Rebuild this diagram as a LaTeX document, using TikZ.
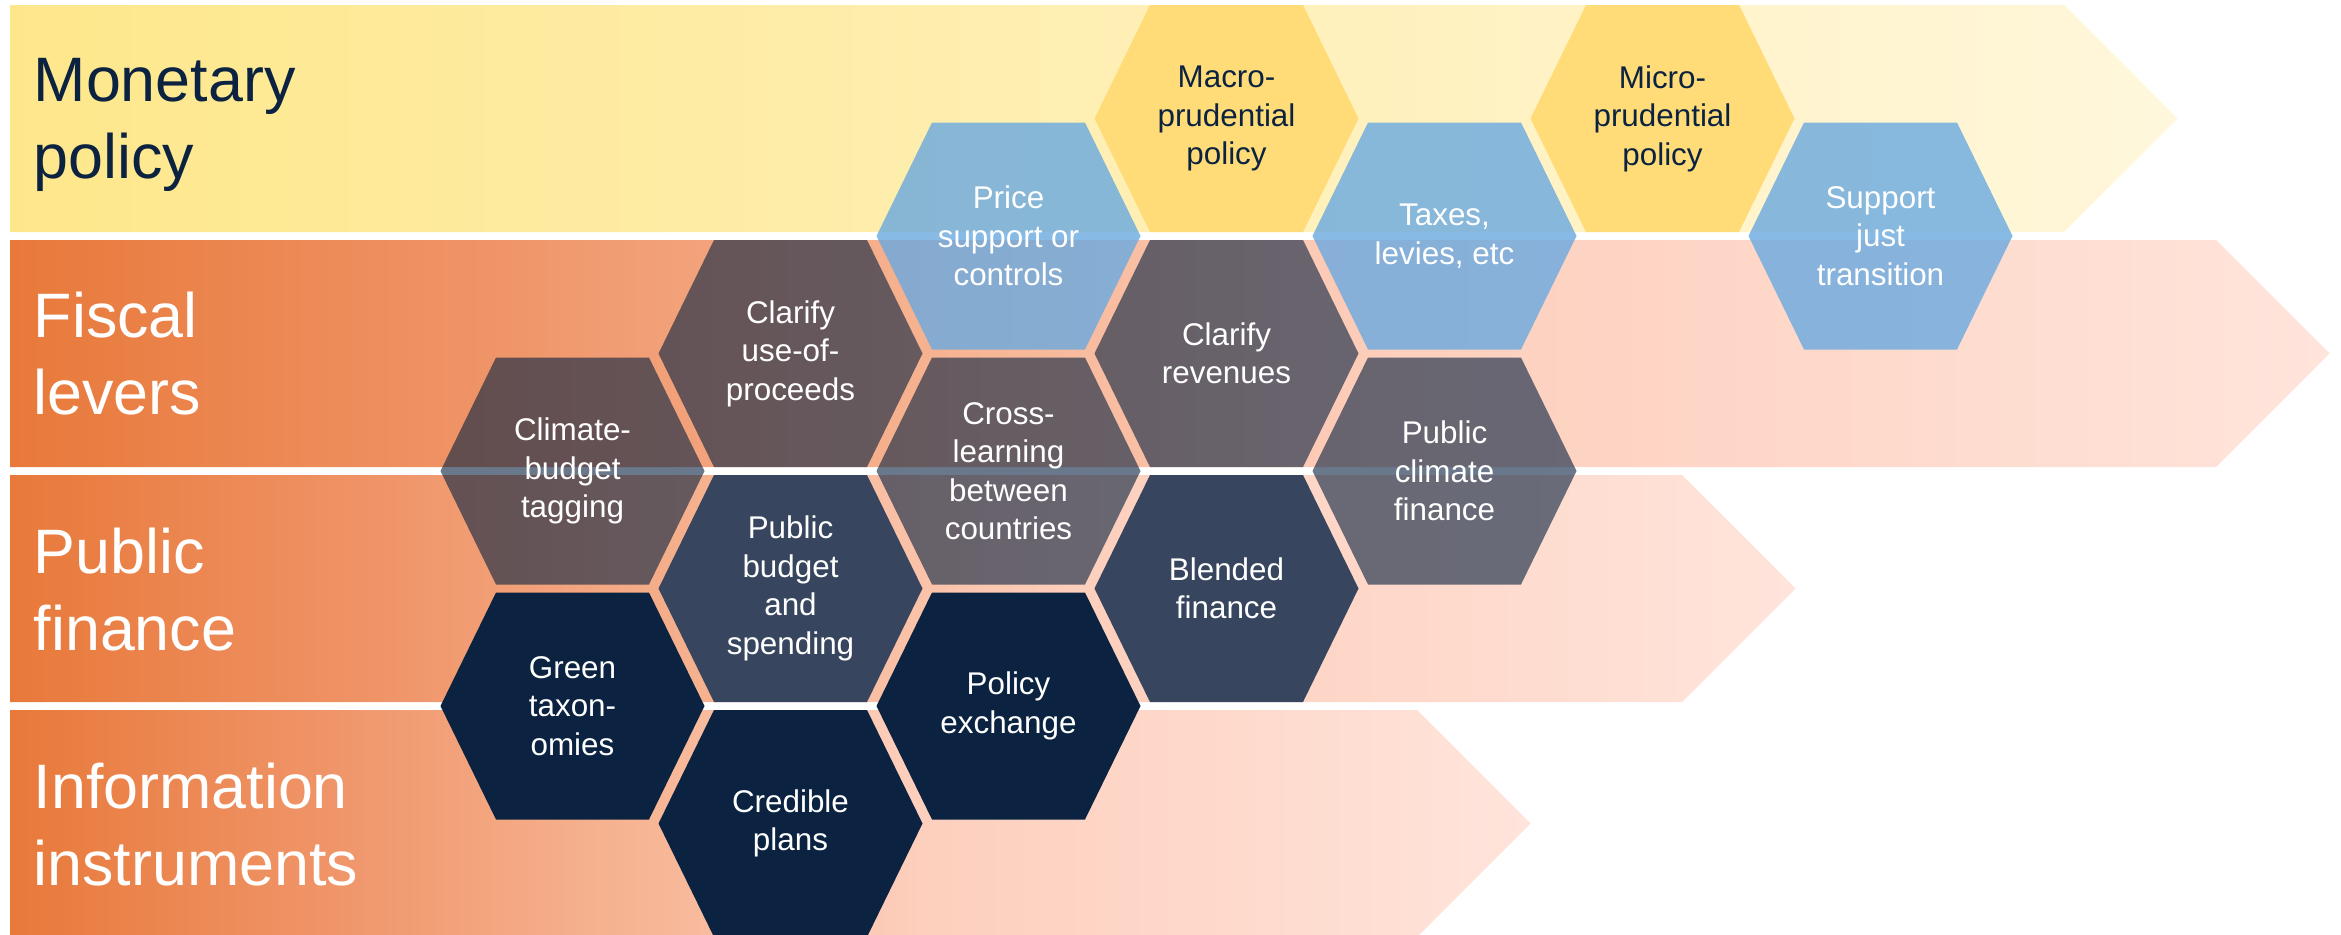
\documentclass[tikz,border=0pt]{standalone}
\usepackage{fontspec}
\setmainfont{Liberation Sans}
\usetikzlibrary{calc}
\definecolor{navy}{HTML}{0B2341}
\definecolor{slatefill}{HTML}{37465E}
\definecolor{goldfill}{HTML}{FFDC78}
\definecolor{skyfill}{HTML}{6AA9E0}
\definecolor{monA}{HTML}{FEE78B}
\definecolor{monB}{HTML}{FFF7DC}
\definecolor{orA}{HTML}{E8793A}
\definecolor{orB}{HTML}{F0966B}
\definecolor{orC}{HTML}{F6B391}
\definecolor{orD}{HTML}{FDCFBD}
\definecolor{orE}{HTML}{FFE4DB}
\pgfdeclarehorizontalshading{orangeband}{100bp}{color(0bp)=(orA); color(25bp)=(orA); color(36bp)=(orB); color(45bp)=(orC); color(55bp)=(orD); color(75bp)=(orE); color(100bp)=(orE)}

\begin{document}
\begin{tikzpicture}[x=0.1mm, y=-0.1mm,
 bandlabel/.style={anchor=west, align=left, inner sep=0pt, text=white,
 font=\fontsize{17.87}{21.9}\selectfont},
 hexlabel/.style={align=center, inner sep=0pt,
 font=\fontsize{8.93}{10.95}\selectfont},
 gold/.style={fill=goldfill},
 sky/.style={fill=skyfill, fill opacity=0.8},
 haze/.style={fill=navy, fill opacity=0.61},
 slate/.style={fill=slatefill},
 ink/.style={fill=navy}]
 \useasboundingbox (0,0) rectangle (2341,934);
 \shade[left color=monA, right color=monB]
 (10,5) -- (2064,5) -- (2177.5,118.5) -- (2064,232) -- (10,232) -- cycle;
 \foreach \t/\e in {240/2216, 475/1682, 710/1417} {
 \shade[shading=orangeband]
 (10,\t) -- (\e,\t) -- ({\e+113.5},{\t+113.5}) -- (\e,{\t+227}) -- (10,{\t+227}) -- cycle;
 }
 \node[bandlabel, text=navy] (monetary) at (33,125) {Monetary\\policy};
 \node[bandlabel] (fiscal) at (33,354) {Fiscal\\levers};
 \node[bandlabel] (public) at (33,590) {Public\\finance};
 \node[bandlabel] (info) at (33,825) {Information\\instruments};
 \foreach \c/\r/\kind/\ink/\txt [count=\i] in {
 0/3/haze/white/{Climate-\\budget\\tagging},
 0/5/ink/white/{Green\\taxon-\\omies},
 1/2/haze/white/{Clarify\\use-of-\\proceeds},
 1/4/slate/white/{Public\\budget\\and\\spending},
 1/6/ink/white/{Credible\\plans},
 2/1/sky/white/{Price\\support or\\controls},
 2/3/haze/white/{Cross-\\learning\\between\\countries},
 2/5/ink/white/{Policy\\exchange},
 3/0/gold/navy/{Macro-\\prudential\\policy},
 3/2/haze/white/{Clarify\\revenues},
 3/4/slate/white/{Blended\\finance},
 4/1/sky/white/{Taxes,\\levies, etc},
 4/3/haze/white/{Public\\climate\\finance},
 5/0/gold/navy/{Micro-\\prudential\\policy},
 6/1/sky/white/{Support\\just\\transition}} {
 \coordinate (c\i) at ({572.5+218*\c},{118.5+117.5*\r});
 \fill[\kind, shift={(c\i)}] (-132,0) -- (-76.5,-113.5) -- (76.5,-113.5)
 -- (132,0) -- (76.5,113.5) -- (-76.5,113.5) -- cycle;
 \node[hexlabel, text=\ink] (hex\i) at (c\i) {\txt};
 }
\end{tikzpicture}
\end{document}
